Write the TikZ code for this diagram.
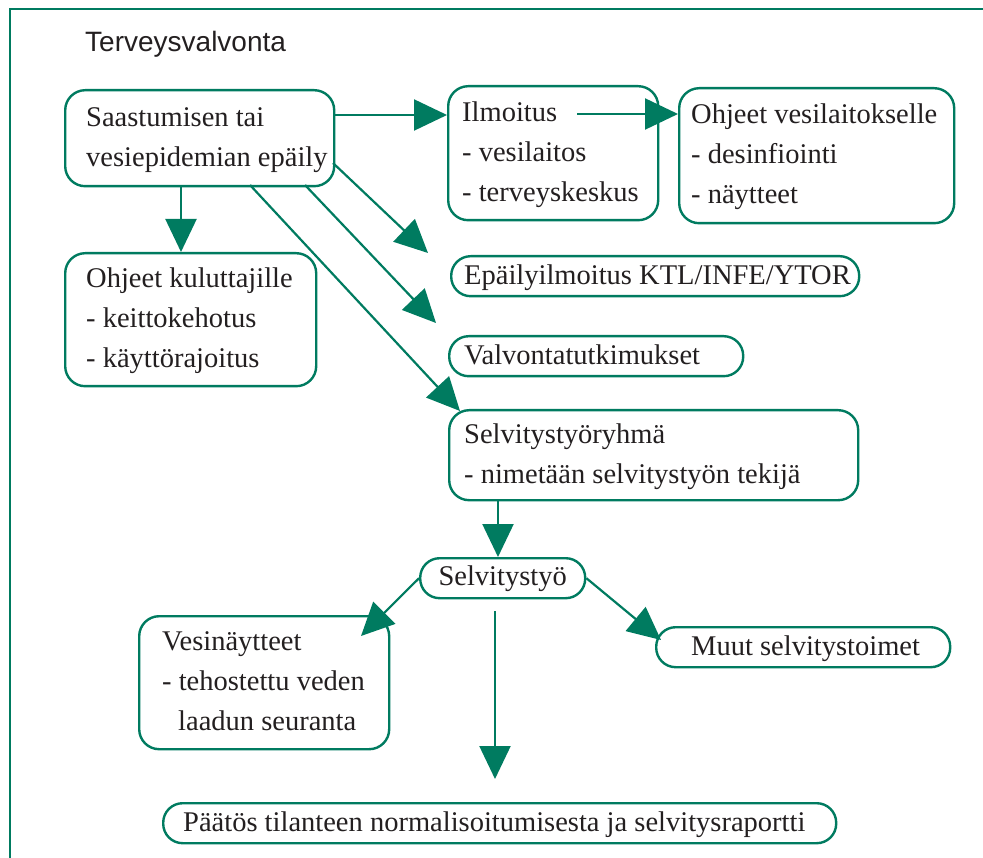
\documentclass[tikz,border=0pt]{standalone}
\usepackage{fontspec}
\setmainfont{Liberation Serif}
\newfontfamily\titlefont{Liberation Sans}
\usetikzlibrary{arrows.meta}
\definecolor{fgreen}{RGB}{0,123,96}
\definecolor{txtc}{RGB}{35,31,32}
\newcommand\lns[2]{\makebox[#1][l]{\begin{tabular}{@{}l@{}}#2\end{tabular}}}
\begin{document}
\begin{tikzpicture}[x=1pt,y=-1pt,
  box/.style={draw=fgreen, line width=2.4pt, rounded corners=20pt, inner sep=0pt,
    anchor=north west, font=\fontsize{28.5}{40}\selectfont, text=txtc},
  pill/.style={box, rounded corners=19.5pt},
  arr/.style={draw=fgreen, line width=2.2pt, -{Triangle[length=33pt,width=31pt]}}]
\useasboundingbox (0,0) rectangle (983,858);
% frame
\draw[fgreen, line width=2.5pt] (10,858) -- (10,9) -- (983,9);
\node[anchor=base west, inner sep=0pt, text=txtc, font=\titlefont\fontsize{28}{34}\selectfont] (title) at (85,52) {Terveysvalvonta};
% boxes
\node[box, minimum width=269pt, minimum height=96pt] (A) at (64,89)
  {\lns{227pt}{Saastumisen tai\\vesiepidemian epäily}};
\node[box, minimum width=210pt, minimum height=134pt] (B) at (447,85)
  {\lns{182pt}{Ilmoitus\\- vesilaitos\\- terveyskeskus}};
\node[box, minimum width=275pt, minimum height=135pt] (C) at (678,87)
  {\lns{251pt}{Ohjeet vesilaitokselle\\- desinfiointi\\- näytteet}};
\node[box, minimum width=251pt, minimum height=133pt] (D) at (64,252)
  {\lns{209pt}{Ohjeet kuluttajille\\- keittokehotus\\- käyttörajoitus}};
\node[pill, minimum width=408pt, minimum height=40pt] (E) at (450,255)
  {\lns{382pt}{Epäilyilmoitus KTL/INFE/YTOR}};
\node[pill, minimum width=294pt, minimum height=40pt] (F) at (448,335)
  {\lns{264pt}{Valvontatutkimukset}};
\node[box, minimum width=409pt, minimum height=90pt] (G) at (448,409)
  {\lns{379pt}{Selvitystyöryhmä\\- nimetään selvitystyön tekijä}};
\node[pill, minimum width=165pt, minimum height=40pt] (H) at (419,557)
  {Selvitystyö};
\node[box, minimum width=250pt, minimum height=133pt] (I) at (138,615)
  {\lns{204pt}{Vesinäytteet\\- tehostettu veden\\\hspace*{16pt}laadun seuranta}};
\node[pill, minimum width=294pt, minimum height=39pt] (J) at (655,626)
  {\lns{224pt}{Muut selvitystoimet}};
\node[pill, minimum width=673pt, minimum height=40pt] (K) at (162,802)
  {\lns{633pt}{Päätös tilanteen normalisoitumisesta ja selvitysraportti}};
% connectors
\coordinate (ab) at (333,115);
\draw[arr] (ab) -- (ab -| B.west);
\coordinate (bc) at (577,114);
\draw[arr] (bc) -- (bc -| C.west);
\coordinate (ad) at (181,0);
\draw[arr] (ad |- A.south) -- (ad |- D.north);
\coordinate (d1s) at (333,163);
\coordinate (d1e) at (428,253);
\draw[arr] (d1s) -- (d1e);
\coordinate (d2s) at (305,185);
\coordinate (d2e) at (436,323);
\draw[arr] (d2s) -- (d2e);
\coordinate (d3s) at (250,185);
\coordinate (d3e) at (460,411);
\draw[arr] (d3s) -- (d3e);
\coordinate (gh) at (498,0);
\draw[arr] (gh |- G.south) -- (gh |- H.north);
\coordinate (hi) at (361,636);
\draw[arr] (H.west) -- (hi);
\coordinate (hj) at (661,640);
\draw[arr] (H.east) -- (hj);
\coordinate (hk1) at (495,611);
\coordinate (hk2) at (495,779);
\draw[arr] (hk1) -- (hk2);
\end{tikzpicture}
\end{document}
